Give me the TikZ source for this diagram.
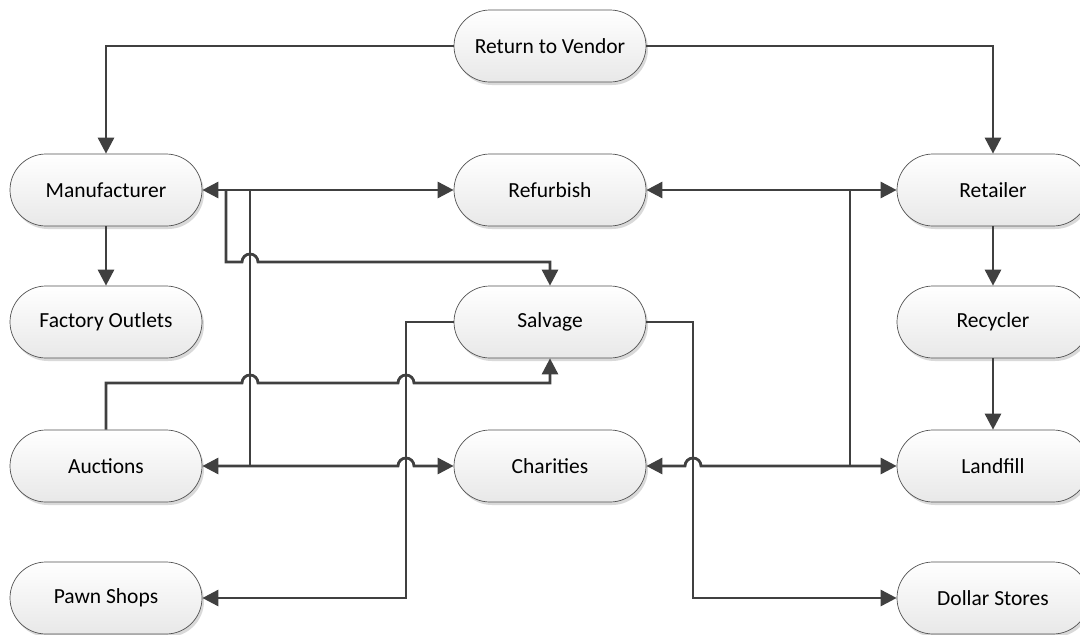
\documentclass[tikz,border=0pt]{standalone}
\usepackage{fontspec}
\setmainfont{Carlito}
\usetikzlibrary{arrows.meta,shadows}

\definecolor{wire}{HTML}{404040}
\definecolor{rim}{HTML}{505050}

\tikzset{
  dest/.style={rectangle, rounded corners=36pt, minimum width=192pt, minimum height=72pt,
    draw=rim, line width=0.7pt, top color=white, bottom color=black!9,
    drop shadow={shadow xshift=2pt, shadow yshift=-3pt, opacity=0.15, fill=black},
    font=\fontsize{21.5}{25}\selectfont},
  bus/.style={draw=wire, line width=2.8pt},
  link/.style={bus, -{Triangle[length=16pt,width=16pt]}},
  both/.style={bus, {Triangle[length=16pt,width=16pt]}-{Triangle[length=16pt,width=16pt]}},
  hop/.style={insert path={arc[start angle=180,end angle=0,radius=8pt]}}
}

\begin{document}
\begin{tikzpicture}[x=1pt, y=-1pt]
  \useasboundingbox (0,0) rectangle (1080,635);
  \clip (0,0) rectangle (1080,635);

  \node[dest] (rtv) at (550,46) {Return to Vendor};
  \node[dest] (mfr) at (106,190) {Manufacturer};
  \node[dest] (ref) at (550,190) {Refurbish};
  \node[dest] (ret) at (993,190) {Retailer};
  \node[dest] (fo) at (106,322) {Factory Outlets};
  \node[dest] (sal) at (550,322) {Salvage};
  \node[dest] (rec) at (993,322) {Recycler};
  \node[dest] (auc) at (106,466) {Auctions};
  \node[dest] (cha) at (550,466) {Charities};
  \node[dest] (lan) at (993,466) {Landfill};
  \node[dest] (paw) at (106,598) {Pawn Shops};
  \node[dest] (dol) at (993,598) {Dollar Stores};

  \draw[link] (rtv.west) -| (mfr.north);
  \draw[link] (rtv.east) -| (ret.north);
  \draw[link] (mfr) -- (fo);
  \draw[link] (ret) -- (rec);
  \draw[link] (rec) -- (lan);

  \draw[both] (mfr) -- (ref);
  \draw[both] (ref) -- (ret);

  \coordinate (mA) at (226,190);
  \coordinate (mB) at (250,190);
  \coordinate (rB) at (850,190);

  \draw[link] (mA) -- (226,262) -- (242,262) [hop] -| (sal.north);
  \draw[bus] (mB) -- (mB |- auc);
  \draw[bus] (rB) -- (rB |- lan);
  \draw[link] (auc.north) |- (242,383) [hop] -- (398,383) [hop] -| (sal.south);
  \draw[link] (sal.west) -- (406,322) |- (paw.east);
  \draw[link] (sal.east) -- (693,322) |- (dol.west);
  \draw[both] (auc.east) -- (398,466) [hop] -- (cha.west);
  \draw[both] (cha.east) -- (685,466) [hop] -- (lan.west);
\end{tikzpicture}
\end{document}
